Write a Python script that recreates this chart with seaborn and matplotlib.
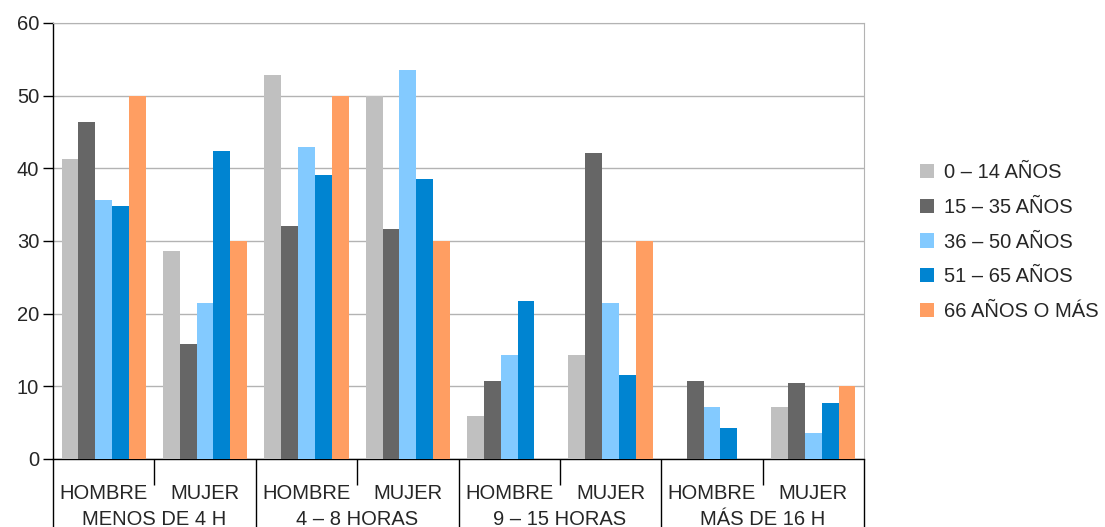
import pandas as pd
import seaborn as sns
import matplotlib.pyplot as plt

# categories (group, sex) and age series
grupos = ['MENOS DE 4 H', '4 – 8 HORAS', '9 – 15 HORAS', 'MÁS DE 16 H']
sexos = ['HOMBRE', 'MUJER']
edades = ['0 – 14 AÑOS', '15 – 35 AÑOS', '36 – 50 AÑOS', '51 – 65 AÑOS', '66 AÑOS O MÁS']

# values per age series, in category order (group x sex)
v_0_14 = [41.3, 28.6, 52.9, 50.0, 5.9, 14.3, 0, 7.1]
v_15_35 = [46.4, 15.8, 32.1, 31.6, 10.7, 42.1, 10.7, 10.5]
v_36_50 = [35.7, 21.4, 42.9, 53.6, 14.3, 21.4, 7.1, 3.6]
v_51_65 = [34.8, 42.4, 39.1, 38.5, 21.7, 11.5, 4.3, 7.7]
v_66 = [50.0, 30.0, 50.0, 30.0, 0, 30.0, 0, 10.0]

colores = ['#c0c0c0', '#666666', '#83caff', '#0084d1', '#ff9e62']

cats = [f'{g}|{s}' for g in grupos for s in sexos]
rows = []
for edad, vals in zip(edades, [v_0_14, v_15_35, v_36_50, v_51_65, v_66]):
    for c, v in zip(cats, vals):
        rows.append({'cat': c, 'edad': edad, 'valor': v})
df = pd.DataFrame(rows)

sns.set_style('white')
plt.rcParams['font.family'] = ['Liberation Sans', 'DejaVu Sans']
fs = 14.5

fig = plt.figure(figsize=(11.05, 5.27), dpi=100)
ax = fig.add_axes([53 / 1105, 68 / 527, 811 / 1105, 436 / 527])

sns.barplot(data=df, x='cat', y='valor', hue='edad', order=cats, hue_order=edades,
            palette=colores, width=0.83, saturation=1, edgecolor='none',
            linewidth=0, ax=ax, zorder=3)

ax.set_xlim(-0.5, 7.5)
ax.set_ylim(0, 60)
ax.set_yticks(range(0, 61, 10))
ax.yaxis.grid(True, color='#b3b3b3', linewidth=1, zorder=0)
ax.set_xlabel('')
ax.set_ylabel('')
ax.tick_params(axis='y', left=True, length=7, width=1, color='black', labelsize=fs, pad=3)

for side in ['top', 'right']:
    ax.spines[side].set_color('#b3b3b3')
for side in ['left', 'bottom']:
    ax.spines[side].set_color('black')
    ax.spines[side].set_linewidth(1)

# separators: long between groups, short between sexes
ax.set_xticks([-0.5, 1.5, 3.5, 5.5, 7.5])
ax.set_xticklabels([])
ax.set_xticks([0.5, 2.5, 4.5, 6.5], minor=True)
ax.tick_params(axis='x', which='major', bottom=True, length=50, width=1, color='black')
ax.tick_params(axis='x', which='minor', bottom=True, length=19, width=1, color='black')

sec1 = ax.secondary_xaxis('bottom')
sec1.set_xticks(range(len(cats)))
sec1.set_xticklabels([c.split('|')[1] for c in cats], fontsize=fs)
sec1.tick_params(length=0, pad=18)
sec1.spines['bottom'].set_visible(False)

sec2 = ax.secondary_xaxis('bottom')
sec2.set_xticks([0.5, 2.5, 4.5, 6.5])
sec2.set_xticklabels(grupos, fontsize=fs)
sec2.tick_params(length=0, pad=37)
sec2.spines['bottom'].set_visible(False)

ax.legend(loc='center left', bbox_to_anchor=(912 / 1105, (527 - 242) / 527),
          bbox_transform=fig.transFigure, frameon=False, fontsize=14.5,
          handlelength=0.7, handleheight=0.7, handletextpad=0.5,
          labelspacing=0.78, borderaxespad=0)

plt.savefig('out.png', dpi=100)
